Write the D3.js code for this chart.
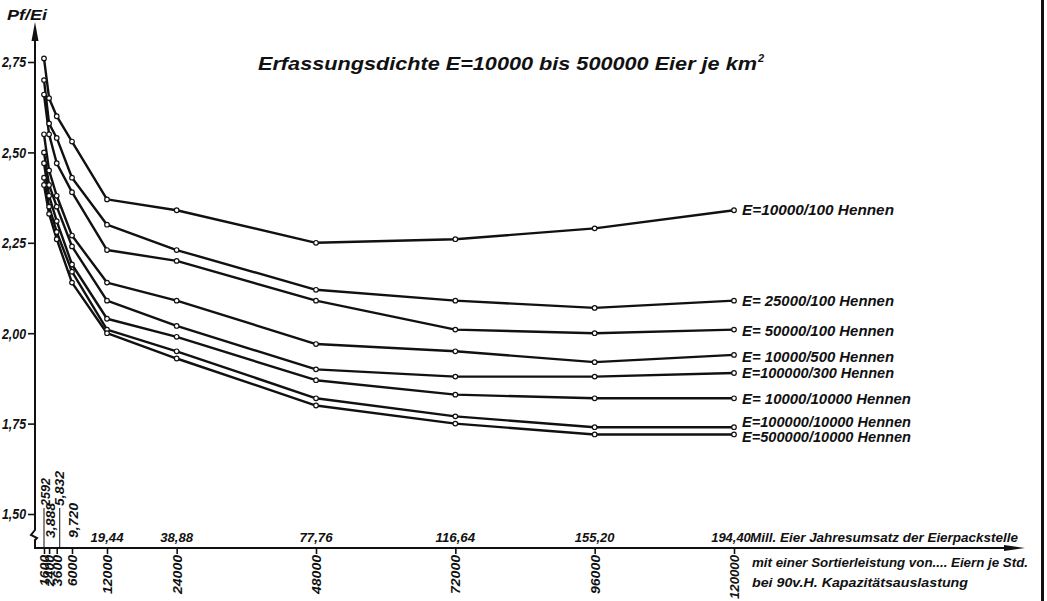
<!DOCTYPE html>
<html>
<head>
<meta charset="utf-8">
<script src="https://cdn.jsdelivr.net/npm/d3@7"></script>
<style>
  html, body { margin: 0; padding: 0; background: #fff; }
  svg { display: block; }
  text { font-family: "Liberation Sans", Arial, sans-serif; font-style: italic; font-weight: bold; fill: #111; }
</style>
</head>
<body>
<svg id="chart" width="1047" height="601"></svg>
<script>
// ---------- data ----------
const throughput = [1600, 2400, 3600, 6000, 12000, 24000, 48000, 72000, 96000, 120000];
const bottomLabels = ["1600", "2400", "3600", "6000", "12000", "24000", "48000", "72000", "96000", "120000"];
const topLabels = ["2592", "3,888", "5,832", "9,720", "19,44", "38,88", "77,76", "116,64", "155,20", "194,40"];
const seriesNames = [
  "E=10000/100 Hennen",
  "E= 25000/100 Hennen",
  "E= 50000/100 Hennen",
  "E= 10000/500 Hennen",
  "E=100000/300 Hennen",
  "E= 10000/10000 Hennen",
  "E=100000/10000 Hennen",
  "E=500000/10000 Hennen"
];
const s10000_100    = [2.76, 2.65, 2.60, 2.53, 2.37, 2.34, 2.25, 2.26, 2.29, 2.34];
const s25000_100    = [2.70, 2.58, 2.54, 2.43, 2.30, 2.23, 2.12, 2.09, 2.07, 2.09];
const s50000_100    = [2.66, 2.55, 2.47, 2.39, 2.23, 2.20, 2.09, 2.01, 2.00, 2.01];
const s10000_500    = [2.55, 2.45, 2.38, 2.27, 2.14, 2.09, 1.97, 1.95, 1.92, 1.94];
const s100000_300   = [2.50, 2.41, 2.35, 2.24, 2.09, 2.02, 1.90, 1.88, 1.88, 1.89];
const s10000_10000  = [2.47, 2.38, 2.31, 2.19, 2.04, 1.99, 1.87, 1.83, 1.82, 1.82];
const s100000_10000 = [2.43, 2.35, 2.28, 2.17, 2.01, 1.95, 1.82, 1.77, 1.74, 1.74];
const s500000_10000 = [2.41, 2.33, 2.26, 2.14, 2.00, 1.93, 1.80, 1.75, 1.72, 1.72];
const yTicks = [1.50, 1.75, 2.00, 2.25, 2.50, 2.75];
const yTickLabels = ["1,50", "1,75", "2,00", "2,25", "2,50", "2,75"];

const seriesValues = [s10000_100, s25000_100, s50000_100, s10000_500,
                      s100000_300, s10000_10000, s100000_10000, s500000_10000];
// small label offsets (px) for the right-hand labels
const labelDy = [0, 0, 1, 2, 0, 1, -5, 3];

// ---------- scales ----------
const svg = d3.select("#chart");
const x = d3.scaleLinear().domain([1600, 6000, 12000, 120000]).range([44, 72, 107, 734]);
const y = d3.scaleLinear().domain([1.5, 2.75]).range([514, 62]);
const axisX = 35, axisY = 548;

// right border bar (scan edge)
svg.append("rect").attr("x", 1041).attr("y", 0).attr("width", 3).attr("height", 601).attr("fill", "#111");

// ---------- y axis ----------
svg.append("path")
  .attr("d", `M${axisX},38 L${axisX},528 L${axisX},530 L${axisX-4},535 L${axisX+2},538 L${axisX},540 L${axisX},${axisY+1}`)
  .attr("fill", "none").attr("stroke", "#111").attr("stroke-width", 2);
svg.append("path")
  .attr("d", `M${axisX},22 L${axisX-3.5},41 L${axisX+3.5},41 Z`).attr("fill", "#111");
svg.append("text").attr("x", 7).attr("y", 20).attr("font-size", 15)
  .attr("textLength", 40).attr("lengthAdjust", "spacingAndGlyphs").text("Pf/Ei");

const yAxis = d3.axisLeft(y).tickValues(yTicks).tickFormat((d, i) => yTickLabels[i]).tickSize(7).tickPadding(2);
const gy = svg.append("g").attr("transform", `translate(${axisX},0)`).call(yAxis);
gy.select(".domain").remove();
gy.selectAll(".tick line").attr("stroke", "#111").attr("stroke-width", 1.6);
gy.selectAll(".tick text").attr("font-size", 14).attr("font-family", null).attr("fill", "#111")
  .attr("dy", "0.35em").attr("textLength", 24).attr("lengthAdjust", "spacingAndGlyphs");

// ---------- x axis ----------
svg.append("line").attr("x1", axisX - 1).attr("x2", 1008).attr("y1", axisY).attr("y2", axisY)
  .attr("stroke", "#111").attr("stroke-width", 2);
svg.append("path").attr("d", `M1025,${axisY} L1004,${axisY-3} L1004,${axisY+3} Z`).attr("fill", "#111");

const xAxis = d3.axisBottom(x).tickValues(throughput).tickFormat(() => "").tickSize(6);
const gx = svg.append("g").attr("transform", `translate(0,${axisY})`).call(xAxis);
gx.select(".domain").remove();
gx.selectAll(".tick line").attr("stroke", "#111").attr("stroke-width", 1.6);

// bottom rotated labels
svg.append("g").selectAll("text").data(throughput).join("text")
  .attr("transform", d => `translate(${x(d)},555) rotate(-90)`)
  .attr("text-anchor", "end").attr("dy", "0.36em").attr("font-size", 13.5)
  .attr("textLength", (d, i) => bottomLabels[i].length === 6 ? 44 : bottomLabels[i].length * 7.8)
  .attr("lengthAdjust", "spacingAndGlyphs")
  .text((d, i) => bottomLabels[i]);

// top labels: first four rotated, others horizontal
const topRot = [
  {dy: 506, lead: true}, {dy: 538, lead: false}, {dy: 506, lead: true}, {dy: 538, lead: false}
];
throughput.forEach((d, i) => {
  if (i < 4) {
    const cfg = topRot[i];
    svg.append("text")
      .attr("transform", `translate(${x(d) + (i === 2 ? 3 : 1)},${cfg.dy}) rotate(-90)`)
      .attr("text-anchor", "start").attr("dy", "0.36em").attr("font-size", 13)
      .attr("textLength", topLabels[i].length * 7).attr("lengthAdjust", "spacingAndGlyphs")
      .text(topLabels[i]);
    if (cfg.lead) {
      svg.append("line").attr("x1", x(d) + (i === 2 ? 3 : 0)).attr("x2", x(d) + (i === 2 ? 3 : 0))
        .attr("y1", 508).attr("y2", axisY)
        .attr("stroke", "#111").attr("stroke-width", 1);
    }
  } else {
    svg.append("text").attr("x", i === 9 ? x(d) - 3 : x(d)).attr("y", 542)
      .attr("text-anchor", "middle").attr("font-size", 13.5)
      .attr("textLength", topLabels[i].length * 6.6).attr("lengthAdjust", "spacingAndGlyphs")
      .text(topLabels[i]);
  }
});

svg.append("text").attr("x", 750).attr("y", 542).attr("font-size", 13.5)
  .attr("textLength", 268).attr("lengthAdjust", "spacingAndGlyphs")
  .text("Mill. Eier Jahresumsatz der Eierpackstelle");
svg.append("text").attr("x", 752).attr("y", 567).attr("font-size", 13.5)
  .attr("textLength", 276).attr("lengthAdjust", "spacingAndGlyphs")
  .text("mit einer Sortierleistung von.... Eiern je Std.");
svg.append("text").attr("x", 752).attr("y", 587).attr("font-size", 13.5)
  .attr("textLength", 216).attr("lengthAdjust", "spacingAndGlyphs")
  .text("bei 90v.H. Kapazitätsauslastung");

// ---------- title ----------
svg.append("text").attr("x", 258).attr("y", 70).attr("font-size", 18)
  .style("font-weight", "600")
  .attr("textLength", 499).attr("lengthAdjust", "spacingAndGlyphs")
  .text("Erfassungsdichte E=10000 bis 500000 Eier je km");
svg.append("text").attr("x", 758).attr("y", 62).attr("font-size", 11).text("2");

// ---------- series ----------
const line = d3.line().x((d, i) => x(throughput[i])).y(d => y(d));
const gS = svg.append("g");
seriesValues.forEach((vals, si) => {
  gS.append("path").datum(vals).attr("d", line)
    .attr("fill", "none").attr("stroke", "#111").attr("stroke-width", 2.4)
    .attr("stroke-linejoin", "round").attr("stroke-linecap", "round");
});
seriesValues.forEach((vals, si) => {
  gS.append("g").selectAll("circle").data(vals).join("circle")
    .attr("cx", (d, i) => x(throughput[i])).attr("cy", d => y(d)).attr("r", 2.3)
    .attr("fill", "#fff").attr("stroke", "#111").attr("stroke-width", 1.2);
  const last = vals[vals.length - 1];
  gS.append("text").attr("x", 742).attr("y", y(last) + labelDy[si]).attr("dy", "0.36em")
    .attr("font-size", 14)
    .attr("textLength", si >= 5 ? 169 : 152).attr("lengthAdjust", "spacingAndGlyphs")
    .text(seriesNames[si]);
});
</script>
</body>
</html>
